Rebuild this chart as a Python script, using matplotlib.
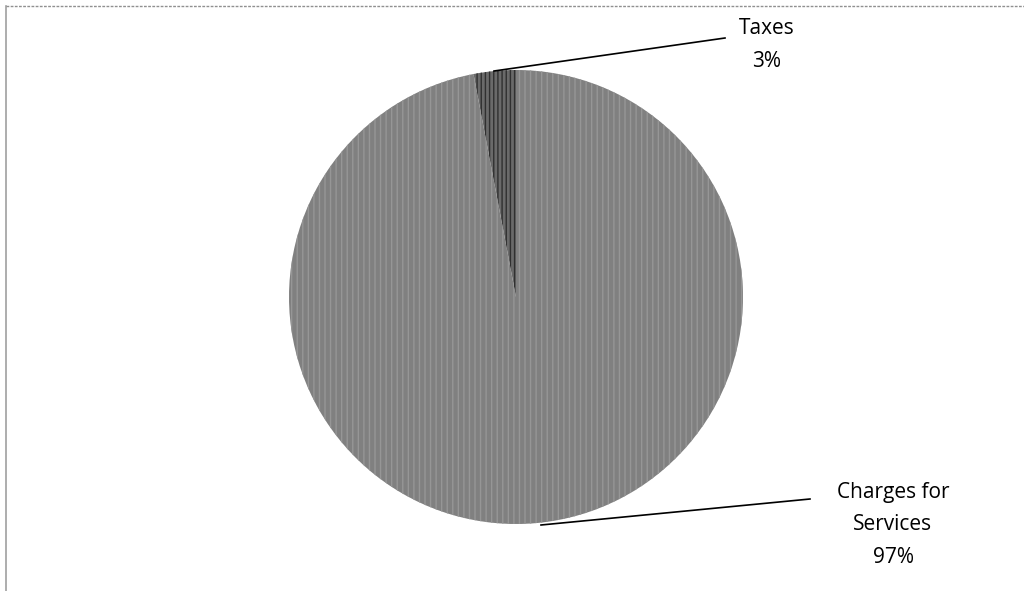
import matplotlib.pyplot as plt

# data
labels = ['Taxes', 'Charges for\nServices']
shares = [3, 97]
pct_labels = ['3%', '97%']

W, H = 1024, 591
fig = plt.figure(figsize=(W / 100, H / 100), dpi=100)
ax = fig.add_axes([0, 0, 1, 1])

# chart border (only top and left edges visible)
ax.plot([5.5, 5.5], [0, H - 5.5], color='#a0a0a0', lw=1.2)
ax.plot([5.5, W], [H - 5.5, H - 5.5], color='#909090', lw=1.0, ls=(0, (2, 1)))

cx, cy, r = 516, H - 297, 227
wedges, _ = ax.pie(shares, startangle=90, counterclock=True,
                   center=(cx, cy), radius=r, frame=True,
                   colors=['#6a6a6a', '#808080'],
                   wedgeprops=dict(linewidth=0))
wedges[0].set_hatch('||||')
wedges[0].set_edgecolor('#303030')
wedges[1].set_hatch('|||')
wedges[1].set_edgecolor('#969696')
for w in wedges:
    w.set_linewidth(0)
ax.set_xlim(0, W)
ax.set_ylim(0, H)
ax.set_aspect('equal')
ax.axis('off')

font = dict(family=['Open Sans', 'DejaVu Sans'], fontsize=15, color='black')

# leader lines
ax.plot([494, 725], [H - 71, H - 38], color='black', lw=1.2)
ax.plot([541, 810], [H - 525, H - 499], color='black', lw=1.2)

ax.text(767, H - 45, labels[0] + '\n' + pct_labels[0], ha='center', va='center',
        linespacing=1.75, **font)
ax.text(893, H - 525, labels[1] + '\n' + pct_labels[1], ha='center', va='center',
        linespacing=1.7, **font)

fig.savefig('out.png', dpi=100)
